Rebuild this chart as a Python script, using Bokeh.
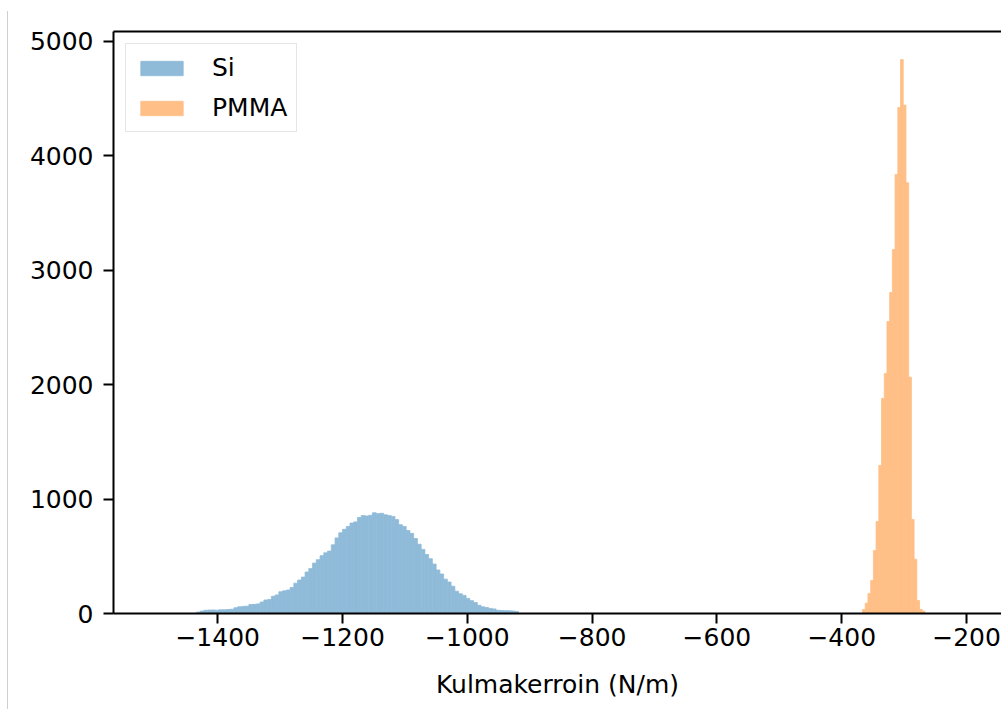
import numpy as np
from bokeh.plotting import figure
from bokeh.models import (ColumnDataSource, LinearAxis, Range1d, Legend,
                          LegendItem, FixedTicker, Div)
from bokeh.layouts import row
from bokeh.embed import file_html
from bokeh.resources import INLINE

# ---- data ----
series_names = ["Si", "PMMA"]

si_bin_start = -1434.0
si_bin_width = 6.0
si_counts = [12, 22, 28, 30, 31, 29, 33, 32, 35, 37,
             50, 58, 62, 64, 78, 80, 84, 100, 118, 122,
             150, 162, 190, 198, 205, 226, 265, 292, 318, 362,
             392, 440, 470, 505, 530, 545, 600, 660, 705, 735,
             760, 790, 800, 838, 856, 852, 858, 880, 872, 875,
             862, 855, 848, 820, 775, 760, 725, 700, 655, 605,
             560, 515, 478, 432, 380, 345, 300, 275, 238, 195,
             172, 158, 132, 112, 95, 72, 58, 52, 44, 40,
             28, 26, 25, 24, 22, 18]

pmma_bin_start = -366.7
pmma_bin_width = 4.35
pmma_counts = [35, 90, 175, 288, 550, 803, 1293, 1878, 2096, 2550,
               2803, 3179, 3834, 4420, 4838, 4440, 3762, 2064, 821, 474,
               113, 35, 20]

x_ticks = [-1400, -1200, -1000, -800, -600, -400, -200]
y_ticks = [0, 1000, 2000, 3000, 4000, 5000]
x_label = "Kulmakerroin (N/m)"
x_limits = (-1567, -144)
y_limits = (0, 5083)

# matplotlib tab:blue / tab:orange at alpha 0.5 over white
colors = ["#8fbbd9", "#ffbf86"]
FONT = "DejaVu Sans"
FS = "25px"


def hist_source(start, width, counts):
    counts = np.asarray(counts, dtype=float)
    left = start + width * np.arange(len(counts))
    return ColumnDataSource(dict(left=left, right=left + width,
                                 top=counts, bottom=np.zeros(len(counts))))


p = figure(width=993, height=709,
           x_range=Range1d(*x_limits), y_range=Range1d(*y_limits),
           output_backend="svg", toolbar_location=None,
           min_border_left=105, min_border_right=0,
           min_border_top=31, min_border_bottom=96, margin=0)
p.outline_line_color = None
p.grid.visible = False
p.background_fill_color = "white"
p.border_fill_color = "white"

r_si = p.quad(left="left", right="right", top="top", bottom="bottom",
              source=hist_source(si_bin_start, si_bin_width, si_counts),
              fill_color=colors[0], line_color=colors[0], line_width=0.8)
r_pm = p.quad(left="left", right="right", top="top", bottom="bottom",
              source=hist_source(pmma_bin_start, pmma_bin_width, pmma_counts),
              fill_color=colors[1], line_color=colors[1], line_width=0.8)

for ax in (p.xaxis[0], p.yaxis[0]):
    ax.axis_line_width = 2
    ax.axis_line_color = "black"
    ax.major_tick_out = 10
    ax.major_tick_in = 0
    ax.major_tick_line_width = 2
    ax.major_tick_line_color = "black"
    ax.minor_tick_line_color = None
    ax.major_label_text_font = FONT
    ax.major_label_text_font_size = FS
    ax.major_label_text_color = "black"

p.xaxis.ticker = FixedTicker(ticks=x_ticks)
p.yaxis.ticker = FixedTicker(ticks=y_ticks)
p.xaxis.major_label_overrides = {t: ("\u2212" + str(abs(t)) if t < 0 else str(t)) for t in x_ticks}
p.xaxis.major_label_standoff = 4
p.yaxis.major_label_standoff = 10
p.xaxis.axis_label = x_label
p.xaxis.axis_label_text_font = FONT
p.xaxis.axis_label_text_font_size = FS
p.xaxis.axis_label_text_font_style = "normal"
p.xaxis.axis_label_text_color = "black"
p.xaxis.axis_label_standoff = 21

top_axis = LinearAxis(ticker=FixedTicker(ticks=[]),
                      major_tick_out=0, major_tick_in=0,
                      minor_tick_out=0, minor_tick_in=0,
                      major_label_text_font_size="0px",
                      major_label_standoff=0,
                      axis_line_width=2, axis_line_color="black")
p.add_layout(top_axis, "above")

legend = Legend(items=[LegendItem(label=series_names[0], renderers=[r_si]),
                       LegendItem(label=series_names[1], renderers=[r_pm])],
                location="top_left", margin=12, padding=9, spacing=11,
                glyph_width=53, glyph_height=18, label_standoff=24,
                label_text_font=FONT, label_text_font_size=FS,
                label_text_color="black",
                border_line_color="#cccccc", border_line_width=1.5,
                background_fill_color="white", background_fill_alpha=0.8)
p.add_layout(legend)

edge = Div(text="", width=8, height=698, margin=(11, 0, 0, 0),
           styles={"border-right": "1px solid #cfcfcf",
                   "box-sizing": "border-box"})

layout = row(edge, p, spacing=0, margin=0)
open("out.html", "w").write(file_html(layout, INLINE))
